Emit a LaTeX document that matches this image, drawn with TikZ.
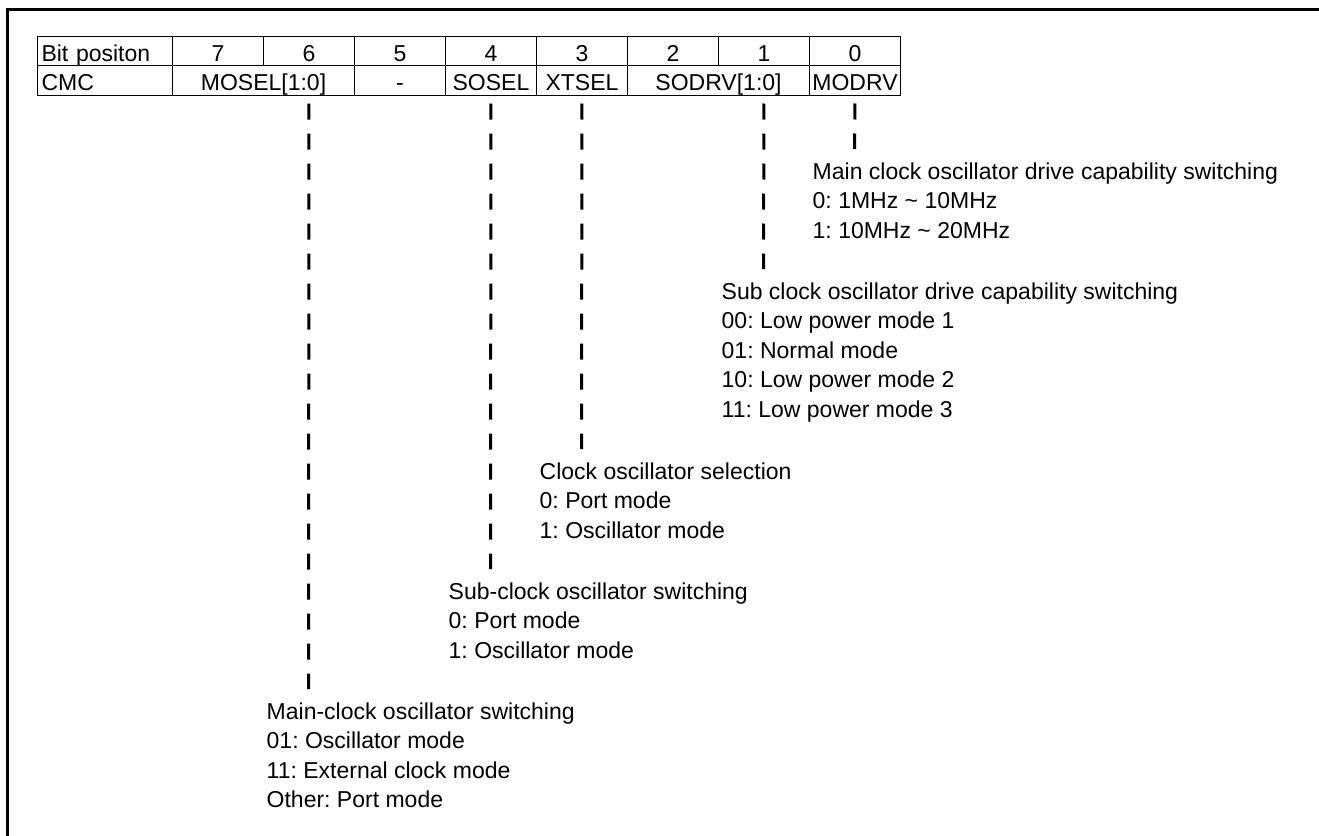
\documentclass[tikz,border=0pt]{standalone}
\usepackage{fontspec}
\setmainfont{Liberation Sans}
\frenchspacing
\begin{document}
\begin{tikzpicture}[x=1pt,y=1pt,
  every node/.style={font=\fontsize{23pt}{29.5pt}\selectfont\frenchspacing},
  toprow/.style={draw, line width=1pt, inner sep=0pt, anchor=north west,
    minimum height=29pt, text height=25pt, text depth=4pt, minimum width=#1},
  toprow/.default=91pt,
  botrow/.style={draw, line width=1pt, inner sep=0pt, anchor=north west,
    minimum height=30pt, text height=25pt, text depth=5pt, minimum width=#1},
  botrow/.default=91pt,
  leftcell/.style={inner xsep=4pt, text width=127pt, align=left},
  bitline/.style={line width=3pt, dash pattern=on 16pt off 14pt, shorten <=7.5pt},
  desc/.style={anchor=base west, inner sep=0pt, align=left},
  frame/.style={line width=2.5pt}
]
\useasboundingbox (0,0) rectangle (1319,-835);
% outer frame (left and top edges)
\draw[frame] (7.5,-840) -- (7.5,-9.5) -- (1325,-9.5);

% top row: bit positions
\node[toprow, leftcell] (bp) at (37,-36) {Bit positon};
\node[toprow] (b7) at (172,-36) {7};
\node[toprow] (b6) at (263,-36) {6};
\node[toprow] (b5) at (354,-36) {5};
\node[toprow] (b4) at (445,-36) {4};
\node[toprow] (b3) at (536,-36) {3};
\node[toprow] (b2) at (627,-36) {2};
\node[toprow] (b1) at (718,-36) {1};
\node[toprow] (b0) at (809,-36) {0};

% bottom row: fields
\node[botrow, leftcell] (cmc) at (37,-65) {CMC};
\node[botrow=182pt] (mosel) at (172,-65) {MOSEL[1:0]};
\node[botrow] (f5) at (354,-65) {-};
\node[botrow] (sosel) at (445,-65) {SOSEL};
\node[botrow] (xtsel) at (536,-65) {XTSEL};
\node[botrow=182pt] (sodrv) at (627,-65) {SODRV[1:0]};
\node[botrow] (modrv) at (809,-65) {MODRV};

% ends of the dashed leaders
\coordinate (e6) at (308.5,-689);
\coordinate (e4) at (490.5,-569);
\coordinate (e3) at (581.5,-449);
\coordinate (e1) at (763.5,-269);
\coordinate (e0) at (854.5,-149);

\draw[bitline] (b6.center |- mosel.south) -- (e6);
\draw[bitline] (b4.center |- sosel.south) -- (e4);
\draw[bitline] (b3.center |- xtsel.south) -- (e3);
\draw[bitline] (b1.center |- sodrv.south) -- (e1);
\draw[bitline] (b0.center |- modrv.south) -- (e0);

% descriptions (anchored at the baseline of their last line)
\node[desc] (t0) at (812.5,-238) {Main clock oscillator drive capability switching\\0: 1MHz \textasciitilde\ 10MHz\\1: 10MHz \textasciitilde\ 20MHz};
\node[desc] (t1) at (721.5,-417) {Sub clock oscillator drive capability switching\\00: Low power mode 1\\01: Normal mode\\10: Low power mode 2\\11: Low power mode 3};
\node[desc] (t3) at (539.5,-538) {Clock oscillator selection\\0: Port mode\\1: Oscillator mode};
\node[desc] (t4) at (448.5,-658) {Sub-clock oscillator switching\\0: Port mode\\1: Oscillator mode};
\node[desc] (t6) at (266.5,-807.5) {Main-clock oscillator switching\\01: Oscillator mode\\11: External clock mode\\Other: Port mode};
\end{tikzpicture}
\end{document}
